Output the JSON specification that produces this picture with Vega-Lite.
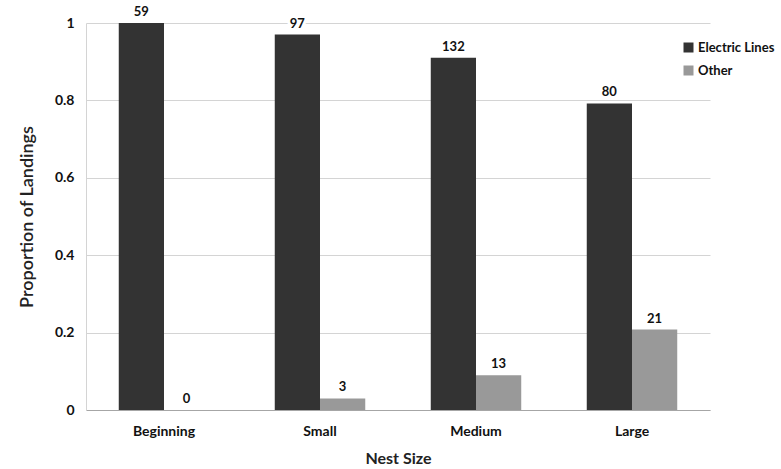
{
  "$schema": "https://vega.github.io/schema/vega-lite/v6.json",
  "width": 624,
  "height": 387,
  "autosize": {"type": "none"},
  "padding": {"left": 86, "top": 23, "right": 71, "bottom": 59},
  "background": "white",
  "config": {
    "font": "Lato",
    "view": {"stroke": null}
  },
  "data": {
    "values": [
      {"size": "Beginning", "series": "Electric Lines", "proportion": 1.0, "count": 59},
      {"size": "Beginning", "series": "Other", "proportion": 0.0, "count": 0},
      {"size": "Small", "series": "Electric Lines", "proportion": 0.97, "count": 97},
      {"size": "Small", "series": "Other", "proportion": 0.03, "count": 3},
      {"size": "Medium", "series": "Electric Lines", "proportion": 0.91, "count": 132},
      {"size": "Medium", "series": "Other", "proportion": 0.09, "count": 13},
      {"size": "Large", "series": "Electric Lines", "proportion": 0.792, "count": 80},
      {"size": "Large", "series": "Other", "proportion": 0.208, "count": 21}
    ]
  },
  "encoding": {
    "x": {
      "field": "size",
      "type": "nominal",
      "sort": ["Beginning", "Small", "Medium", "Large"],
      "scale": {"paddingInner": 0.42, "paddingOuter": 0.21},
      "axis": {
        "title": "Nest Size",
        "titleFontSize": 16,
        "titleFontWeight": "bold",
        "titleColor": "#222",
        "titlePadding": 12,
        "labelAngle": 0,
        "labelFontSize": 14,
        "labelFontWeight": "bold",
        "labelColor": "#111",
        "labelPadding": 14,
        "ticks": false,
        "domainColor": "#a6a6a6",
        "domainWidth": 1.2
      }
    },
    "xOffset": {
      "field": "series",
      "type": "nominal",
      "sort": ["Electric Lines", "Other"],
      "scale": {"paddingInner": 0, "paddingOuter": 0}
    }
  },
  "layer": [
    {
      "mark": {"type": "bar"},
      "encoding": {
        "y": {
          "field": "proportion",
          "type": "quantitative",
          "scale": {"domain": [0, 1], "nice": false},
          "axis": {
            "title": "Proportion of Landings",
            "titleFontSize": 18,
            "titleFontWeight": 600,
            "titleColor": "#222",
            "titlePadding": 18,
            "values": [0, 0.2, 0.4, 0.6, 0.8, 1],
            "format": "~g",
            "labelFontSize": 14,
            "labelFontWeight": "bold",
            "labelColor": "#111",
            "labelPadding": 12,
            "ticks": false,
            "grid": true,
            "gridColor": "#d4d4d4",
            "domainColor": "#d4d4d4"
          }
        },
        "color": {
          "field": "series",
          "type": "nominal",
          "sort": ["Electric Lines", "Other"],
          "scale": {"domain": ["Electric Lines", "Other"], "range": ["#333333", "#999999"]},
          "legend": {
            "title": null,
            "orient": "none",
            "legendX": 596,
            "legendY": 18,
            "symbolType": "square",
            "symbolSize": 100,
            "symbolStrokeWidth": 0,
            "labelFontSize": 13,
            "labelFontWeight": "bold",
            "labelColor": "#111",
            "labelOffset": 3,
            "rowPadding": 9
          }
        }
      }
    },
    {
      "mark": {"type": "text", "baseline": "bottom", "dy": -4, "fontSize": 13, "fontWeight": "bold", "stroke": "white", "strokeWidth": 6, "strokeJoin": "round"},
      "encoding": {
        "y": {"field": "proportion", "type": "quantitative"},
        "text": {"field": "count", "type": "quantitative"}
      }
    },
    {
      "mark": {"type": "text", "baseline": "bottom", "dy": -4, "fontSize": 13, "fontWeight": "bold", "color": "#111"},
      "encoding": {
        "y": {"field": "proportion", "type": "quantitative"},
        "text": {"field": "count", "type": "quantitative"}
      }
    }
  ]
}
